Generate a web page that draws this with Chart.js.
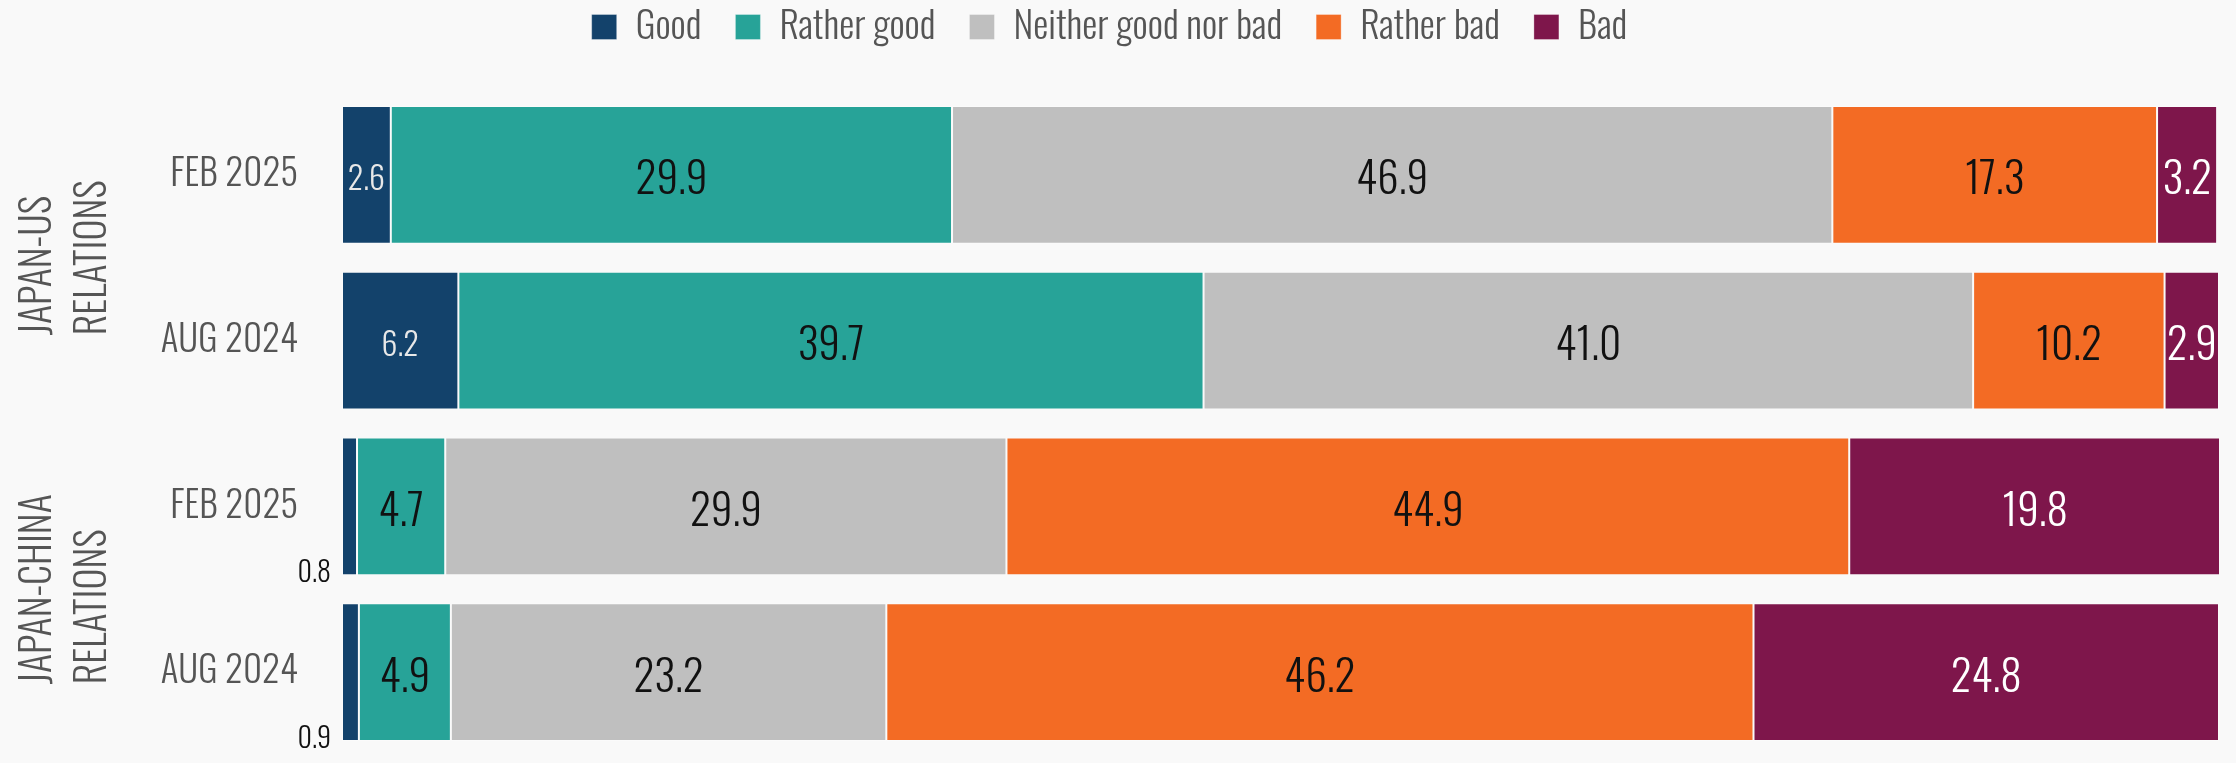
<!DOCTYPE html>
<html>
<head>
<meta charset="utf-8">
<script src="https://cdn.jsdelivr.net/npm/chart.js@4"></script>
<style>
  html, body { margin: 0; padding: 0; background: #f9f9f9; }
  #wrap { width: 2236px; height: 763px; position: relative; }
</style>
</head>
<body>
<div id="wrap"><canvas id="chart"></canvas></div>
<script>
// Survey data: how Japanese respondents rate relations
const periods = ['FEB 2025', 'AUG 2024', 'FEB 2025', 'AUG 2024'];
const groupNames = [['JAPAN-US', 'RELATIONS'], ['JAPAN-CHINA', 'RELATIONS']];
const answers = ['Good', 'Rather good', 'Neither good nor bad', 'Rather bad', 'Bad'];
const good = [2.6, 6.2, 0.8, 0.9];
const ratherGood = [29.9, 39.7, 4.7, 4.9];
const neither = [46.9, 41.0, 29.9, 23.2];
const ratherBad = [17.3, 10.2, 44.9, 46.2];
const bad = [3.2, 2.9, 19.8, 24.8];

const colors = ['#13426b', '#27a398', '#bfbfbf', '#f36b24', '#7e164b'];
const labelColors = ['#e8e8e8', '#111111', '#111111', '#111111', '#ffffff'];
const FONT = 'Oswald, "Roboto Condensed", sans-serif';
const MID = 0.105; // Oswald: caps sit a bit above the 'middle' baseline

// fixed legend height so the bars start where they should
const legendHeight = {
    id: 'legendHeight',
    beforeLayout(chart) {
        const lg = chart.legend;
        if (lg && !lg._fixed) {
            const fit = lg.fit;
            lg.fit = function() { fit.call(this); this.height = 118; };
            lg._fixed = true;
        }
    }
};

// value labels inside each segment
const valueLabels = {
    id: 'valueLabels',
    afterDatasetsDraw(chart) {
        const ctx = chart.ctx;
        chart.data.datasets.forEach((ds, di) => {
            const meta = chart.getDatasetMeta(di);
            meta.data.forEach((bar, i) => {
                const v = ds.data[i];
                ctx.save();
                if (v < 1.5) {
                    // too thin: put it outside, below left
                    ctx.font = '300 28px ' + FONT;
                    ctx.fillStyle = '#111';
                    ctx.textAlign = 'right';
                    ctx.textBaseline = 'alphabetic';
                    ctx.fillText(v.toFixed(1), bar.base - 11, bar.y + bar.height / 2 + 7);
                } else {
                    const size = di === 0 ? 32 : 43;
                    ctx.font = '300 ' + size + 'px ' + FONT;
                    ctx.fillStyle = labelColors[di];
                    ctx.textAlign = 'center';
                    ctx.textBaseline = 'middle';
                    ctx.fillText(v.toFixed(1), (bar.x + bar.base) / 2, bar.y + size * MID + 2);
                }
                ctx.restore();
            });
        });
    }
};

// rotated group titles left of the period labels
const groupTitles = {
    id: 'groupTitles',
    afterDraw(chart) {
        const ctx = chart.ctx;
        const y = chart.scales.y;
        ctx.save();
        ctx.font = '300 40px ' + FONT;
        ctx.fillStyle = '#555';
        ctx.textBaseline = 'middle';
        groupNames.forEach((lines, g) => {
            const mid = (y.getPixelForValue(g * 2) + y.getPixelForValue(g * 2 + 1)) / 2;
            const w = Math.max(...lines.map(l => ctx.measureText(l).width));
            lines.forEach((line, k) => {
                ctx.save();
                ctx.translate(39 + k * 55, mid + w / 2);
                ctx.rotate(-Math.PI / 2);
                ctx.textAlign = 'left';
                ctx.fillText(line, 0, 0);
                ctx.restore();
            });
        });
        ctx.restore();
    }
};

const datasets = [good, ratherGood, neither, ratherBad, bad].map((d, i) => ({
    label: answers[i],
    data: d,
    backgroundColor: colors[i],
    borderColor: 'rgba(255,255,255,0.3)',
    borderWidth: 1,
    borderSkipped: false,
    barPercentage: 0.83,
    categoryPercentage: 1.0
}));

new Chart(document.getElementById('chart'), {
    type: 'bar',
    data: { labels: periods, datasets: datasets },
    options: {
        indexAxis: 'y',
        responsive: true,
        maintainAspectRatio: false,
        animation: false,
        layout: { padding: { left: 0, right: 17, top: -26, bottom: 8 } },
        scales: {
            x: {
                stacked: true,
                min: 0,
                max: 100,
                display: false
            },
            y: {
                stacked: true,
                grid: { display: false, drawTicks: false },
                border: { display: false },
                ticks: {
                    color: '#555',
                    padding: 44,
                    font: { family: FONT, size: 37, weight: '300' }
                },
                afterFit(scale) {
                    scale.width = 342;
                    // tick padding should only push labels sideways
                    scale.paddingTop = 0;
                    scale.paddingBottom = 0;
                }
            }
        },
        plugins: {
            legend: {
                position: 'top',
                labels: {
                    color: '#555',
                    boxWidth: 25,
                    boxHeight: 25,
                    padding: 34,
                    font: { family: FONT, size: 38, weight: '300' }
                }
            },
            tooltip: { enabled: false }
        }
    },
    plugins: [legendHeight, valueLabels, groupTitles]
});
</script>
</body>
</html>
